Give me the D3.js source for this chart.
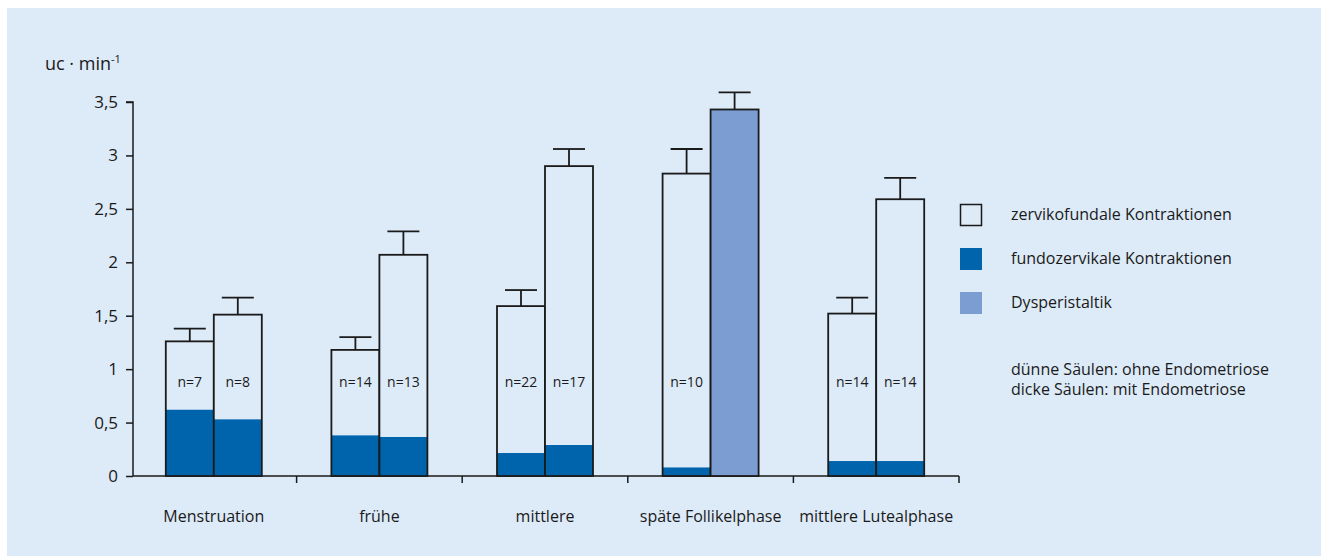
<!DOCTYPE html>
<html>
<head>
<meta charset="utf-8">
<script src="https://cdn.jsdelivr.net/npm/d3@7"></script>
<style>
  html, body { margin: 0; padding: 0; background: #ffffff; }
  svg { display: block; }
  text { font-family: "Open Sans", "Noto Sans", sans-serif; fill: #1a1a1a; }
</style>
</head>
<body>
<svg id="chart" width="1321" height="556"></svg>
<script>
// Cycle phases on the x axis
const phases = ["Menstruation", "frühe", "mittlere", "späte Follikelphase", "mittlere Lutealphase"];

// Thin columns: patients without endometriosis
const thinTotal = [1.26, 1.18, 1.59, 2.83, 1.52];   // zervikofundale (total height)
const thinFundo = [0.62, 0.38, 0.215, 0.08, 0.14];  // fundozervikale part
const thinError = [1.38, 1.30, 1.74, 3.06, 1.67];   // upper end of error bar
const thinN     = [7, 14, 22, 10, 14];

// Thick columns: patients with endometriosis
const thickTotal = [1.51, 2.07, 2.90, 3.43, 2.59];
const thickFundo = [0.53, 0.365, 0.29, 0, 0.14];
const thickError = [1.67, 2.29, 3.06, 3.59, 2.79];
const thickN     = [8, 13, 17, null, 14];
const thickDys   = [false, false, false, true, false]; // Dysperistaltik column

const yTicks = [0, 0.5, 1, 1.5, 2, 2.5, 3, 3.5];

const legendItems = [
  { label: "zervikofundale Kontraktionen", fill: "none", stroke: "#1a1a1a" },
  { label: "fundozervikale Kontraktionen", fill: "#0064ad", stroke: "none" },
  { label: "Dysperistaltik", fill: "#7b9dd2", stroke: "none" }
];
const noteLines = ["dünne Säulen: ohne Endometriose", "dicke Säulen: mit Endometriose"];

const BG = "#ddeaf8", DARK = "#0064ad", LIGHT = "#7b9dd2", INK = "#1a1a1a";

const svg = d3.select("#chart");
svg.append("rect").attr("x", 7).attr("y", 8).attr("width", 1321 - 7).attr("height", 556 - 8).attr("fill", BG);

const x = d3.scaleBand().domain(phases).range([131, 959]).padding(0);
const y = d3.scaleLinear().domain([0, 3.5]).range([476, 102]);
const barW = 48;

// y axis
const yAxis = svg.append("g").attr("transform", "translate(133,0)")
  .call(d3.axisLeft(y).tickValues(yTicks).tickSize(7).tickPadding(8)
    .tickFormat(d => String(d).replace(".", ",")));
yAxis.select(".domain").attr("stroke", INK).attr("stroke-width", 1.5).attr("d", `M-7,${y(3.5)}H0V${y(0)}`);
yAxis.selectAll(".tick line").attr("stroke", INK).attr("stroke-width", 1.5);
yAxis.selectAll(".tick text").style("font-size", "17px").attr("fill", INK);

// x axis: ticks at the phase boundaries
const bounds = phases.slice(1).map(p => x(p)).concat([x.range()[1]]);
const xg = svg.append("g");
xg.append("line").attr("x1", 133).attr("x2", 959).attr("y1", y(0)).attr("y2", y(0))
  .attr("stroke", INK).attr("stroke-width", 1.5);
xg.selectAll("line.tk").data(bounds).join("line").attr("class", "tk")
  .attr("x1", d => d).attr("x2", d => d).attr("y1", y(0)).attr("y2", y(0) + 7)
  .attr("stroke", INK).attr("stroke-width", 1.5);
xg.selectAll("text").data(phases).join("text")
  .attr("x", d => x(d) + x.bandwidth() / 2).attr("y", 522)
  .attr("text-anchor", "middle").style("font-size", "16px").text(d => d);

// axis unit
const unit = svg.append("text").attr("x", 45).attr("y", 70).style("font-size", "18px");
unit.append("tspan").text("uc · min");
unit.append("tspan").attr("dy", -7).style("font-size", "11px").text("-1");

// columns
function drawColumn(cx, total, fundo, err, n, dys) {
  const g = svg.append("g");
  const x0 = cx - barW / 2;
  // error bar
  g.append("line").attr("x1", cx).attr("x2", cx).attr("y1", y(total)).attr("y2", y(err))
    .attr("stroke", INK).attr("stroke-width", 1.8);
  g.append("line").attr("x1", cx - 16).attr("x2", cx + 16).attr("y1", y(err)).attr("y2", y(err))
    .attr("stroke", INK).attr("stroke-width", 1.8);
  // outer column
  g.append("rect").attr("x", x0).attr("y", y(total)).attr("width", barW).attr("height", y(0) - y(total))
    .attr("fill", dys ? LIGHT : BG);
  // fundozervikale part
  if (fundo > 0) {
    g.append("rect").attr("x", x0).attr("y", y(fundo)).attr("width", barW).attr("height", y(0) - y(fundo))
      .attr("fill", DARK);
  }
  g.append("rect").attr("x", x0).attr("y", y(total)).attr("width", barW).attr("height", y(0) - y(total))
    .attr("fill", "none").attr("stroke", INK).attr("stroke-width", 1.8);
  if (n != null) {
    g.append("text").attr("x", cx).attr("y", 387).attr("text-anchor", "middle")
      .style("font-size", "14px").text("n=" + n);
  }
}

phases.forEach((p, i) => {
  const c = x(p) + x.bandwidth() / 2;
  drawColumn(c - barW / 2, thinTotal[i], thinFundo[i], thinError[i], thinN[i], false);
  drawColumn(c + barW / 2, thickTotal[i], thickFundo[i], thickError[i], thickN[i], thickDys[i]);
});

// legend
const lg = svg.append("g");
legendItems.forEach((it, i) => {
  const yy = 204 + i * 44;
  lg.append("rect").attr("x", it.stroke === "none" ? 960 : 960.5).attr("y", it.stroke === "none" ? yy : yy + 0.5)
    .attr("width", it.stroke === "none" ? 22 : 21).attr("height", it.stroke === "none" ? 22 : 21)
    .attr("fill", it.fill).attr("stroke", it.stroke).attr("stroke-width", 1.5);
  lg.append("text").attr("x", 1011).attr("y", yy + 16).style("font-size", "16px").text(it.label);
});
// two-line note as one text block
const note = lg.append("text").attr("x", 1011).attr("y", 375).style("font-size", "16px");
noteLines.forEach((t, i) => {
  note.append("tspan").attr("x", 1011).attr("dy", i === 0 ? 0 : 20).text(t);
});
</script>
</body>
</html>
